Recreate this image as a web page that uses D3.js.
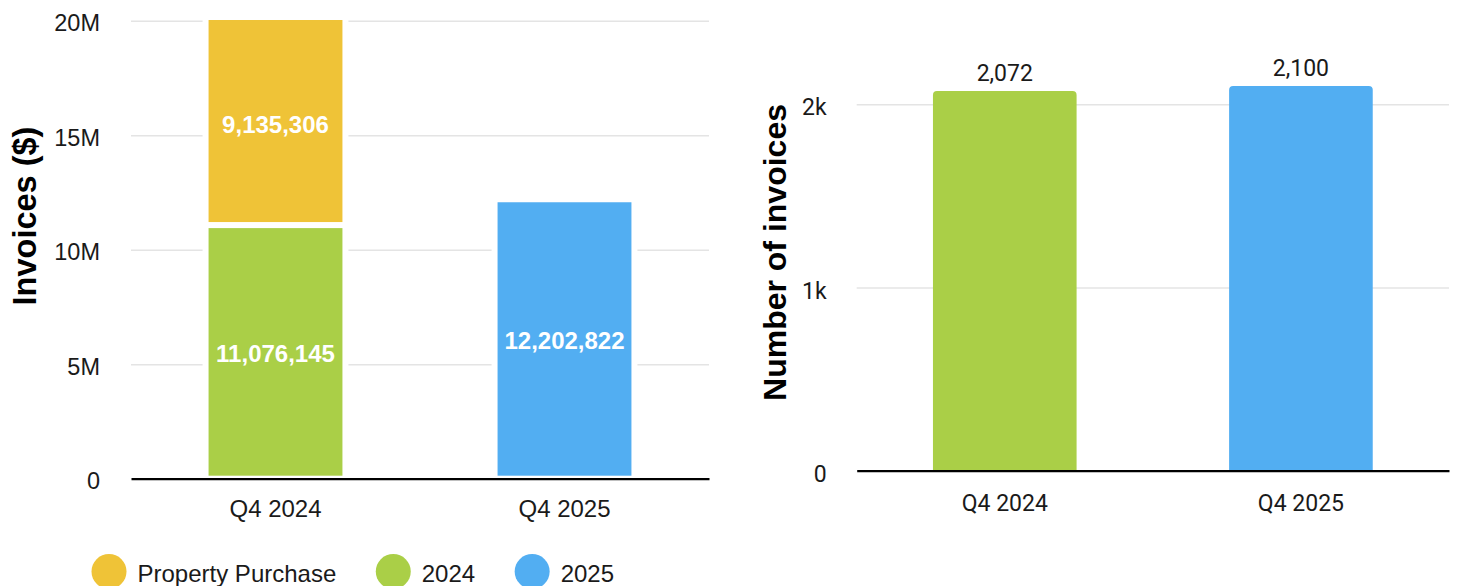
<!DOCTYPE html>
<html>
<head>
<meta charset="utf-8">
<script src="https://cdn.jsdelivr.net/npm/d3@7"></script>
<style>
  html, body { margin: 0; padding: 0; background: #fff; }
  svg { display: block; }
</style>
</head>
<body>
<svg id="chart" width="1457" height="586"></svg>
<script>
// ---------- DATA ----------
const categories = ["Q4 2024", "Q4 2025"];
const seriesNames = ["Property Purchase", "2024", "2025"];
const seriesColors = ["#EFC337", "#AACF47", "#52AEF2"];
const propertyPurchase = [9135306, 0];
const invoices2024 = [11076145, 0];
const invoices2025 = [0, 12202822];
const leftTickValues = [0, 5000000, 10000000, 15000000, 20000000];
const leftTickLabels = ["0", "5M", "10M", "15M", "20M"];
const invoiceCounts = [2072, 2100];
const invoiceCountColors = ["#AACF47", "#52AEF2"];
const rightTickValues = [0, 1000, 2000];
const rightTickLabels = ["0", "1k", "2k"];

const svg = d3.select("#chart");
const fmt = d3.format(",");

// ---------- LEFT CHART ----------
const L = { x0: 131, x1: 709, yTop: 20.7, yBot: 478.7 };
const xL = d3.scaleBand().domain(categories).range([L.x0, L.x1]).paddingInner(0.516).paddingOuter(0.258);
const yL = d3.scaleLinear().domain([0, 20000000]).range([L.yBot, L.yTop]);

const left = svg.append("g");
// gridlines
left.append("g")
  .attr("transform", `translate(${L.x0},0)`)
  .call(d3.axisLeft(yL).tickValues(leftTickValues.slice(1)).tickSize(-(L.x1 - L.x0)).tickFormat(""))
  .call(g => g.select(".domain").remove())
  .call(g => g.selectAll("line").attr("stroke", "#e4e4e4").attr("stroke-width", 1.6));
// tick labels
left.append("g")
  .attr("transform", `translate(${L.x0},0)`)
  .call(d3.axisLeft(yL).tickValues(leftTickValues).tickSize(0).tickPadding(31)
        .tickFormat((d, i) => leftTickLabels[i]))
  .call(g => g.select(".domain").remove())
  .call(g => g.selectAll("text").attr("font-family", "Liberation Sans, Arial, sans-serif")
        .attr("font-size", 23.5).attr("fill", "#1a1a1a").attr("dy", "0.42em"));

// stacked data
const tableL = categories.map((c, i) => ({
  cat: c,
  "2024": invoices2024[i],
  "Property Purchase": propertyPurchase[i],
  "2025": invoices2025[i]
}));
const stackKeys = ["2024", "Property Purchase", "2025"];
const stacked = d3.stack().keys(stackKeys)(tableL);
const colorOf = d3.scaleOrdinal().domain(seriesNames).range(seriesColors);

svg.append("defs").append("clipPath").attr("id", "clipL")
  .append("rect").attr("x", 0).attr("y", 20).attr("width", 1457).attr("height", 586);

const barsL = left.append("g").attr("clip-path", "url(#clipL)");
stacked.forEach(layer => {
  barsL.selectAll(null).data(layer.filter(d => d[1] - d[0] > 0)).enter().append("rect")
    .attr("x", d => xL(d.data.cat))
    .attr("width", xL.bandwidth())
    .attr("y", d => yL(d[1]))
    .attr("height", d => yL(d[0]) - yL(d[1]))
    .attr("fill", colorOf(layer.key))
    .attr("stroke", "#fff")
    .attr("stroke-width", 6);
});
// value labels
stacked.forEach(layer => {
  left.selectAll(null).data(layer.filter(d => d[1] - d[0] > 0)).enter().append("text")
    .attr("x", d => xL(d.data.cat) + xL.bandwidth() / 2)
    .attr("y", d => (yL(d[0]) + yL(Math.min(d[1], 20000000))) / 2)
    .attr("dy", "0.42em")
    .attr("text-anchor", "middle")
    .attr("font-family", "Liberation Sans, Arial, sans-serif")
    .attr("font-weight", "bold")
    .attr("font-size", 24)
    .attr("fill", "#fff")
    .text(d => fmt(d[1] - d[0]));
});
// x axis
left.append("g")
  .attr("transform", `translate(0,${L.yBot})`)
  .call(d3.axisBottom(xL).tickSize(0).tickPadding(21.5))
  .call(g => g.select(".domain").attr("stroke", "#000").attr("stroke-width", 2.2))
  .call(g => g.selectAll("text").attr("font-family", "Liberation Sans, Arial, sans-serif")
        .attr("font-size", 24).attr("fill", "#1a1a1a"));
// y title
left.append("text")
  .attr("transform", "translate(35.5,216) rotate(-90)")
  .attr("text-anchor", "middle")
  .attr("font-family", "Liberation Sans, Arial, sans-serif")
  .attr("font-weight", "bold").attr("font-size", 32.5).attr("fill", "#000")
  .text("Invoices ($)");

// legend
const legend = left.append("g").attr("font-family", "Liberation Sans, Arial, sans-serif").attr("font-size", 24);
let lx = 91.5;
seriesNames.forEach((name, i) => {
  legend.append("circle").attr("cx", lx + 17.5).attr("cy", 571.5).attr("r", 17.5).attr("fill", seriesColors[i]);
  const t = legend.append("text").attr("x", lx + 46).attr("y", 581.7).attr("fill", "#1a1a1a").text(name);
  lx = lx + 46 + t.node().getComputedTextLength() + 39.5;
});

// ---------- RIGHT CHART ----------
const R = { x0: 856.7, x1: 1449, yBot: 470.7, y2k: 104.3 };
const xR = d3.scaleBand().domain(categories).range([R.x0, R.x1]).paddingInner(0.515).paddingOuter(0.2575);
const yR = d3.scaleLinear().domain([0, 2000]).range([R.yBot, R.y2k]);
const right = svg.append("g");

right.append("g")
  .attr("transform", `translate(${R.x0},0)`)
  .call(d3.axisLeft(yR).tickValues(rightTickValues.slice(1)).tickSize(-(R.x1 - R.x0)).tickFormat(""))
  .call(g => g.select(".domain").remove())
  .call(g => g.selectAll("line").attr("stroke", "#e4e4e4").attr("stroke-width", 1.6));
right.append("g")
  .attr("transform", `translate(${R.x0},0)`)
  .call(d3.axisLeft(yR).tickValues(rightTickValues).tickSize(0).tickPadding(30)
        .tickFormat((d, i) => rightTickLabels[i]))
  .call(g => g.select(".domain").remove())
  .call(g => g.selectAll("text").attr("font-family", "Roboto, sans-serif")
        .attr("font-size", 23).attr("fill", "#1a1a1a").attr("dy", "0.46em"));

const rr = 4;
right.selectAll(null).data(categories).enter().append("path")
  .attr("d", (c, i) => {
    const x = xR(c), w = xR.bandwidth(), y0 = yR(0), y1 = yR(invoiceCounts[i]);
    return `M${x},${y0} L${x},${y1 + rr} Q${x},${y1} ${x + rr},${y1} L${x + w - rr},${y1} Q${x + w},${y1} ${x + w},${y1 + rr} L${x + w},${y0} Z`;
  })
  .attr("fill", (c, i) => invoiceCountColors[i]);
right.selectAll(null).data(categories).enter().append("text")
  .attr("x", c => xR(c) + xR.bandwidth() / 2)
  .attr("y", (c, i) => yR(invoiceCounts[i]) - 10)
  .attr("text-anchor", "middle")
  .attr("font-family", "Roboto, sans-serif").attr("font-size", 23).attr("fill", "#1a1a1a")
  .text((c, i) => fmt(invoiceCounts[i]));

right.append("g")
  .attr("transform", `translate(0,${R.yBot})`)
  .call(d3.axisBottom(xR).tickSize(0).tickPadding(23.5))
  .call(g => g.select(".domain").attr("stroke", "#000").attr("stroke-width", 2.2))
  .call(g => g.selectAll("text").attr("font-family", "Roboto, sans-serif")
        .attr("font-size", 23).attr("fill", "#1a1a1a"));

right.append("text")
  .attr("transform", "translate(786,252.5) rotate(-90)")
  .attr("text-anchor", "middle")
  .attr("font-family", "Liberation Sans, Arial, sans-serif")
  .attr("font-weight", "bold").attr("font-size", 32).attr("fill", "#000")
  .text("Number of invoices");
</script>
</body>
</html>
